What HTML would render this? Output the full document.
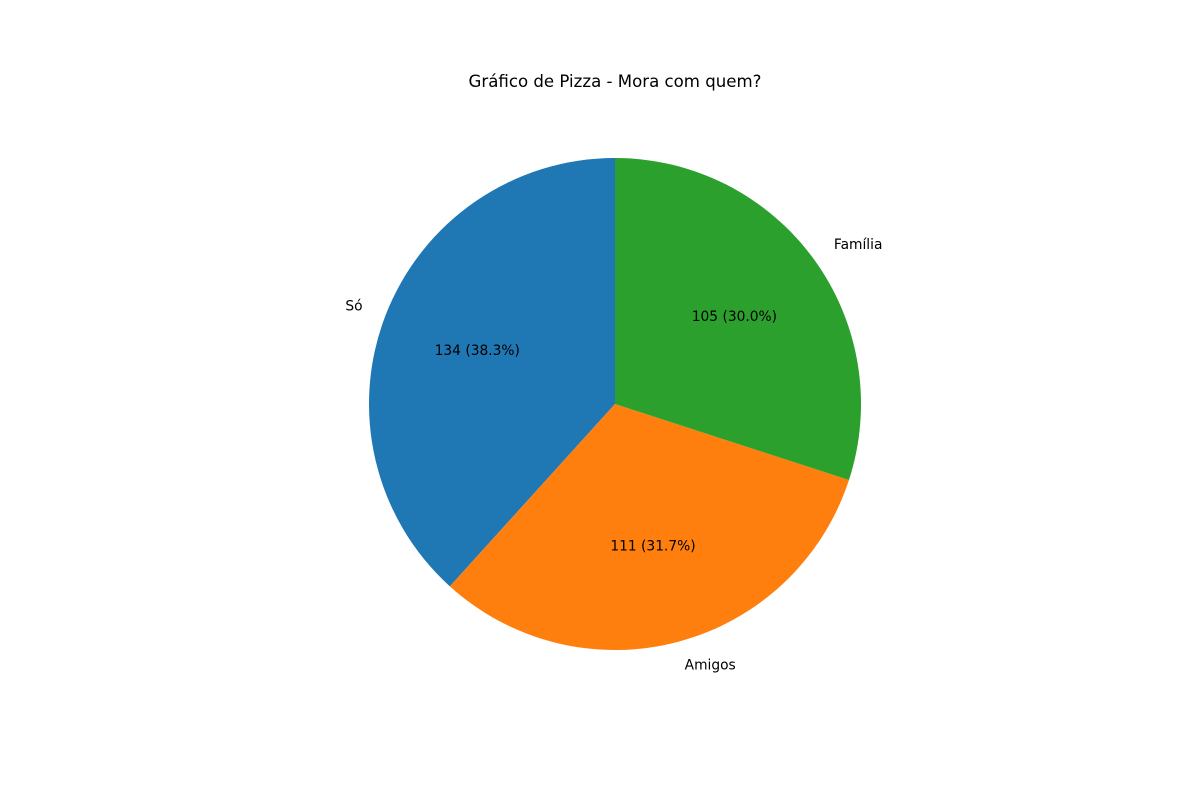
<!DOCTYPE html>
<html><head><meta charset="utf-8"><style>
html,body{margin:0;padding:0;background:#fff;}
svg{display:block;font-family:"DejaVu Sans","Liberation Sans",sans-serif;}
</style></head><body>
<svg id="chart" width="1200" height="800" viewBox="0 0 1200 800">
<text x="615" y="87" text-anchor="middle" font-size="16.6" fill="#000">Gráfico de Pizza - Mora com quem?</text>
<g id="slices"></g>
</svg>
<script>
const categories = ["Só", "Amigos", "Família"];
const values = [134, 111, 105];
const colors = ["#1f77b4", "#ff7f0e", "#2ca02c"];
const cx = 615, cy = 404, r = 246, startAngle = 90;
const g = document.getElementById('slices');
const NS = "http://www.w3.org/2000/svg";
const total = values.reduce((a, b) => a + b, 0);
function pt(deg, rad) { const t = deg * Math.PI / 180; return [cx + rad * Math.cos(t), cy - rad * Math.sin(t)]; }
let a = startAngle;
values.forEach((v, i) => {
  const sweep = v / total * 360;
  const a2 = a + sweep;
  const p1 = pt(a, r), p2 = pt(a2, r);
  const large = sweep > 180 ? 1 : 0;
  const path = document.createElementNS(NS, 'path');
  path.setAttribute('d', `M${cx},${cy} L${p1[0]},${p1[1]} A${r},${r} 0 ${large} 0 ${p2[0]},${p2[1]} Z`);
  path.setAttribute('fill', colors[i]);
  
  
  g.appendChild(path);
  const mid = a + sweep / 2;
  const lp = pt(mid, r * 1.1);
  const lab = document.createElementNS(NS, 'text');
  lab.setAttribute('x', lp[0]); lab.setAttribute('y', lp[1] + 4);
  lab.setAttribute('font-size', '13.8');
  lab.setAttribute('text-anchor', lp[0] < cx ? 'end' : 'start');
  lab.textContent = categories[i];
  
  
  g.appendChild(lab);
  const pp = pt(mid, r * 0.6);
  const pct = document.createElementNS(NS, 'text');
  pct.setAttribute('x', pp[0]); pct.setAttribute('y', pp[1] + 4);
  pct.setAttribute('font-size', '13.8');
  pct.setAttribute('text-anchor', 'middle');
  pct.textContent = `${v} (${(v / total * 100).toFixed(1)}%)`;
  
  
  g.appendChild(pct);
  a = a2;
});
</script>
</body></html>
